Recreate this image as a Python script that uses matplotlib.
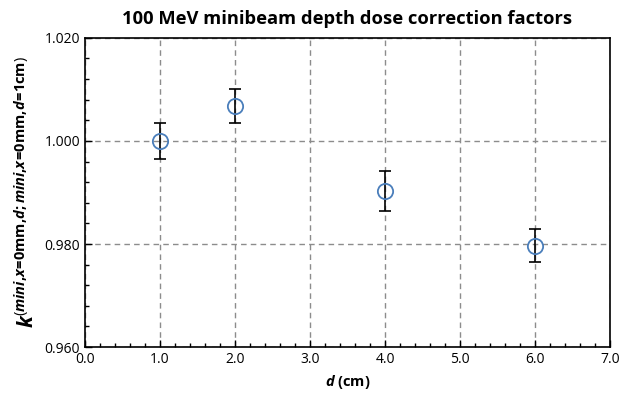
import numpy as np
import matplotlib.pyplot as plt
from matplotlib.ticker import MultipleLocator

plt.rcParams['font.family'] = ['Open Sans', 'DejaVu Sans']
plt.rcParams['mathtext.fontset'] = 'custom'
plt.rcParams['mathtext.rm'] = 'Open Sans'
plt.rcParams['mathtext.bf'] = 'Open Sans:bold'
plt.rcParams['mathtext.it'] = 'Open Sans:italic'
plt.rcParams['mathtext.bfit'] = 'Open Sans:bold:italic'

# depth (cm) and correction factor with its uncertainty
depth = [1.0, 2.0, 4.0, 6.0]
k_factor = [1.0000, 1.0068, 0.9903, 0.9797]
k_err = [0.0035, 0.0033, 0.0039, 0.0032]

fig = plt.figure(figsize=(6.2, 3.94), dpi=100)
ax = fig.add_axes([0.137, 0.119, 0.847, 0.785])

ax.errorbar(depth, k_factor, yerr=k_err, fmt='none', ecolor='black',
            elinewidth=1.2, capsize=4.5, capthick=1.2, zorder=3)
ax.plot(depth, k_factor, 'o', markersize=11, markerfacecolor='none',
        markeredgecolor='#4a7ebb', markeredgewidth=1.3, zorder=4)

ax.set_xlim(0, 7)
ax.set_ylim(0.96, 1.02)
ax.xaxis.set_major_locator(MultipleLocator(1.0))
ax.xaxis.set_minor_locator(MultipleLocator(0.2))
ax.yaxis.set_major_locator(MultipleLocator(0.02))
ax.yaxis.set_minor_locator(MultipleLocator(0.004))
ax.xaxis.set_major_formatter(lambda v, p: f'{v:.1f}')
ax.yaxis.set_major_formatter(lambda v, p: f'{v:.3f}')

ax.tick_params(which='both', direction='in', top=False, right=False,
               labelsize=10)
ax.tick_params(which='major', length=5, width=1)
ax.tick_params(which='minor', length=3, width=1)

ax.grid(True, which='major', linestyle=(0, (4, 3)), color='#8c8c8c',
        linewidth=1)
for s in ax.spines.values():
    s.set_linewidth(1.2)

ax.set_title('100 MeV minibeam depth dose correction factors',
             fontsize=13.2, fontweight='bold', pad=10)
ax.set_xlabel(r'$\boldsymbol{d}$ (cm)', fontsize=10.5, fontweight='bold')

# superscript pieces, tightened so "=" doesn't get relation spacing
eq0 = r'\!\mathbf{=}\!\mathbf{0mm}\mathbf{,}'
sup = (r'(\boldsymbol{mini}\mathbf{,}\boldsymbol{x}' + eq0 +
       r'\boldsymbol{d}\mathbf{;}\boldsymbol{mini}\mathbf{,}\boldsymbol{x}' + eq0 +
       r'\boldsymbol{d}\!\mathbf{=}\!\mathbf{1cm})')
ax.set_ylabel(r'$\boldsymbol{k}^{' + sup + '}$', fontsize=15, labelpad=4)

fig.savefig('out.png', dpi=100)
